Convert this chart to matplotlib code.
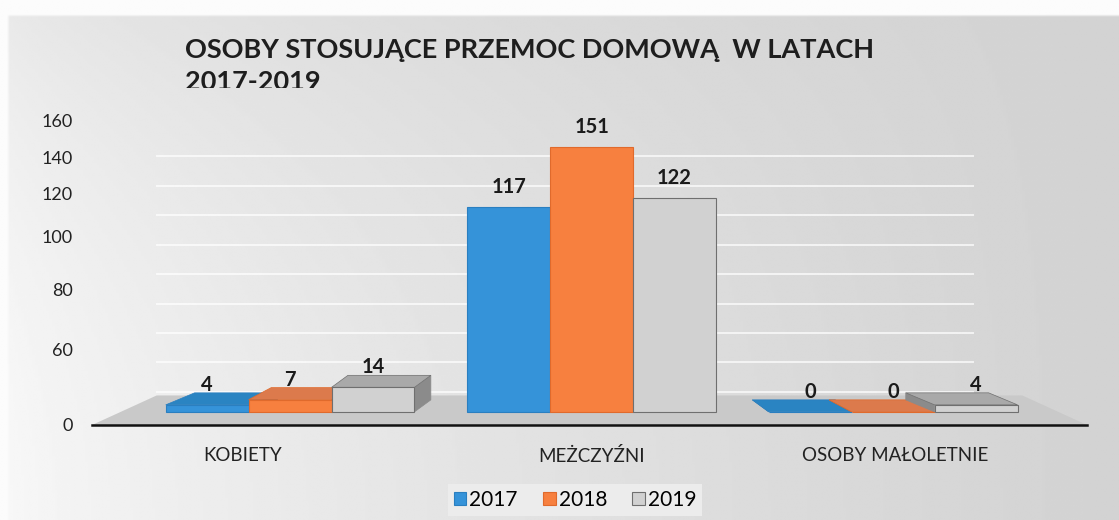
import numpy as np
import matplotlib
matplotlib.use('Agg')
import matplotlib.pyplot as plt
from matplotlib.patches import Polygon
from matplotlib.transforms import ScaledTranslation, Bbox, TransformedBbox

# ---------------- data ----------------
categories = ['KOBIETY', 'MEŻCZYŹNI', 'OSOBY MAŁOLETNIE']
years = ['2017', '2018', '2019']
v2017 = [4, 117, 0]
v2018 = [7, 151, 0]
v2019 = [14, 122, 4]
series = [v2017, v2018, v2019]
ytick_values = [0, 60, 80, 100, 120, 140, 160]
wall_grid = [0, 20, 40, 60, 80, 100, 120, 140, 160]
title_lines = ['OSOBY STOSUJĄCE PRZEMOC DOMOWĄ  W LATACH', '2017-2019']

# ---------------- style ----------------
front_colors = ['#3593d9', '#f7803f', '#d1d1d1']
top_colors = ['#2a84c2', '#dc7a4c', '#a9a9a9']
side_colors = ['#1f6ea6', '#c2643c', '#8b8b8b']
edge_colors = ['#2a7fc0', '#e06a2c', '#6f6f6f']

plt.rcParams['font.family'] = ['Lato', 'DejaVu Sans']

W, H, DPI = 1119, 520, 100
fig = plt.figure(figsize=(W / DPI, H / DPI), dpi=DPI)

# scanned-paper like gray gradient background
bg = fig.add_axes([0, 0, 1, 1], zorder=-10)
gx = np.linspace(0, 1, 400)
gy = np.linspace(0, 1, 200)
X, Y = np.meshgrid(gx, gy)
shade = 0.975 - 0.15 * X ** 0.7 - 0.06 * Y ** 2 * (1 - X)
shade[gy > 1 - 14 / H, :] = 0.985
shade[:, gx < 7 / W] = 0.985
bg.imshow(shade, cmap='gray', vmin=0, vmax=1, extent=[0, 1, 0, 1],
          aspect='auto', origin='lower', interpolation='bilinear')
bg.set_axis_off()

# main axes
ax_left, ax_bottom = 92 / W, (H - 425) / H
ax_w, ax_h = 995 / W, 311 / H
ax = fig.add_axes([ax_left, ax_bottom, ax_w, ax_h])
ax.set_facecolor('none')
ax.set_xlim(-0.657, 2.643)
ax.set_ylim(-7.5, 170)
for s in ['top', 'right', 'left']:
    ax.spines[s].set_visible(False)
ax.spines['bottom'].set_color('#111111')
ax.spines['bottom'].set_linewidth(1.8)
ax.spines['bottom'].set_zorder(6)
ax.set_yticks([])

# floor of the 3D chart
floor = Polygon([(0, 0), (1, 0), (0.935, 0.095), (0.065, 0.095)], closed=True,
                transform=ax.transAxes, facecolor='#c9c9c9', edgecolor='none', zorder=0.2)
ax.add_patch(floor)

# back-wall gridlines (perspective compressed wall scale)
WALL_OFFSET, WALL_SCALE = 11.4, 0.84
for w in wall_grid:
    ax.axhline(WALL_OFFSET + WALL_SCALE * w, xmin=0.065, xmax=0.885,
               color='white', lw=1.4, alpha=0.7, zorder=0.3)

# bars
x = np.arange(len(categories))
bw = 0.275
containers = []
for i, vals in enumerate(series):
    c = ax.bar(x + (i - 1) * bw, vals, width=bw, color=front_colors[i],
               edgecolor=edge_colors[i], linewidth=0.8, zorder=2 + i * 0.1,
               label=years[i])
    containers.append(c)

# pseudo-3D faces for low bars
fig.canvas.draw()
vp_px = ax.transData.transform((1, 0))[0]
inv = ax.transData.inverted()
DEPTH_Y = 12
for i, c in enumerate(containers):
    for j, rect in enumerate(c.patches):
        h = rect.get_height()
        x0 = rect.get_x()
        x1 = x0 + rect.get_width()
        if h < 50:
            cx = ax.transData.transform((x0 + bw / 2, 0))[0]
            dx = 0.075 * (vp_px - cx)
            b0, b1, t0, t1 = ax.transData.transform([(x0, 0), (x1, 0), (x0, h), (x1, h)])
            top = [t0, t1, t1 + (dx, DEPTH_Y), t0 + (dx, DEPTH_Y)]
            if dx > 0:
                side = [b1, t1, t1 + (dx, DEPTH_Y), b1 + (dx, DEPTH_Y)]
            else:
                side = [b0, t0, t0 + (dx, DEPTH_Y), b0 + (dx, DEPTH_Y)]
            z = 2 + i * 0.1 - 0.01
            ax.add_patch(Polygon(inv.transform(side), closed=True, facecolor=side_colors[i],
                                 edgecolor=side_colors[i], lw=0.5, zorder=z))
            ax.add_patch(Polygon(inv.transform(top), closed=True, facecolor=top_colors[i],
                                 edgecolor=edge_colors[i], lw=0.5, zorder=z + 0.005))
        ax.annotate(str(int(h)), xy=(x0 + bw / 2, h), xytext=(0, 10),
                    textcoords='offset pixels', ha='center', va='bottom',
                    fontsize=14.5, fontweight='bold', color='#1a1a1a', zorder=10)

# category labels
ax.set_xticks(x, categories)
ax.tick_params(axis='x', length=0, pad=16, labelsize=13.5, labelcolor='#222222')
label_shift_px = [-47, 0, 2]
for lab, sh in zip(ax.get_xticklabels(), label_shift_px):
    lab.set_transform(lab.get_transform() + ScaledTranslation(sh / DPI, 0, fig.dpi_scale_trans))

# y labels placed where the 3D chart printed them (piecewise mapping, linear beyond ends)
label_pos_main = [-7.4, 35.4, 69.6, 99.8, 124.9, 144.9, 166.1]
lo_slope = (ytick_values[1] - ytick_values[0]) / (label_pos_main[1] - label_pos_main[0])
hi_slope = (ytick_values[-1] - ytick_values[-2]) / (label_pos_main[-1] - label_pos_main[-2])
M = [label_pos_main[0] - 1000] + label_pos_main + [label_pos_main[-1] + 1000]
L = [ytick_values[0] - 1000 * lo_slope] + ytick_values + [ytick_values[-1] + 1000 * hi_slope]

def fwd(v):
    return np.interp(v, M, L)

def bwd(l):
    return np.interp(l, L, M)

sec = ax.secondary_yaxis('left', functions=(fwd, bwd))
sec.set_yticks(ytick_values)
sec.spines['left'].set_visible(False)
sec.tick_params(axis='y', length=0, pad=14, labelsize=13, labelcolor='#222222')

# legend
leg = fig.legend(handles=[c.patches[0] for c in containers], labels=years,
                 loc='center', bbox_to_anchor=(575 / W, 1 - 500 / H), ncol=3,
                 frameon=True, fancybox=False, fontsize=15, handlelength=0.6,
                 handleheight=0.6, handletextpad=0.15, columnspacing=1.2,
                 borderpad=0.3)
leg.get_frame().set_facecolor('#ececec')
leg.get_frame().set_edgecolor('none')
leg.get_frame().set_alpha(1)

# title, lower part of the second line cut off as in the scan
title_tops_px = [38, 70]
clip_box = TransformedBbox(Bbox([[0, (H - 88) / H], [1, 1]]), fig.transFigure)
for line, top_px in zip(title_lines, title_tops_px):
    t = fig.text(185 / W, 1 - top_px / H, line, ha='left', va='top', fontsize=19.5,
                 fontweight='bold', color='#1e1e1e')
    t.set_clip_box(clip_box)
    t.set_clip_on(True)

fig.savefig('out.png', dpi=DPI)
